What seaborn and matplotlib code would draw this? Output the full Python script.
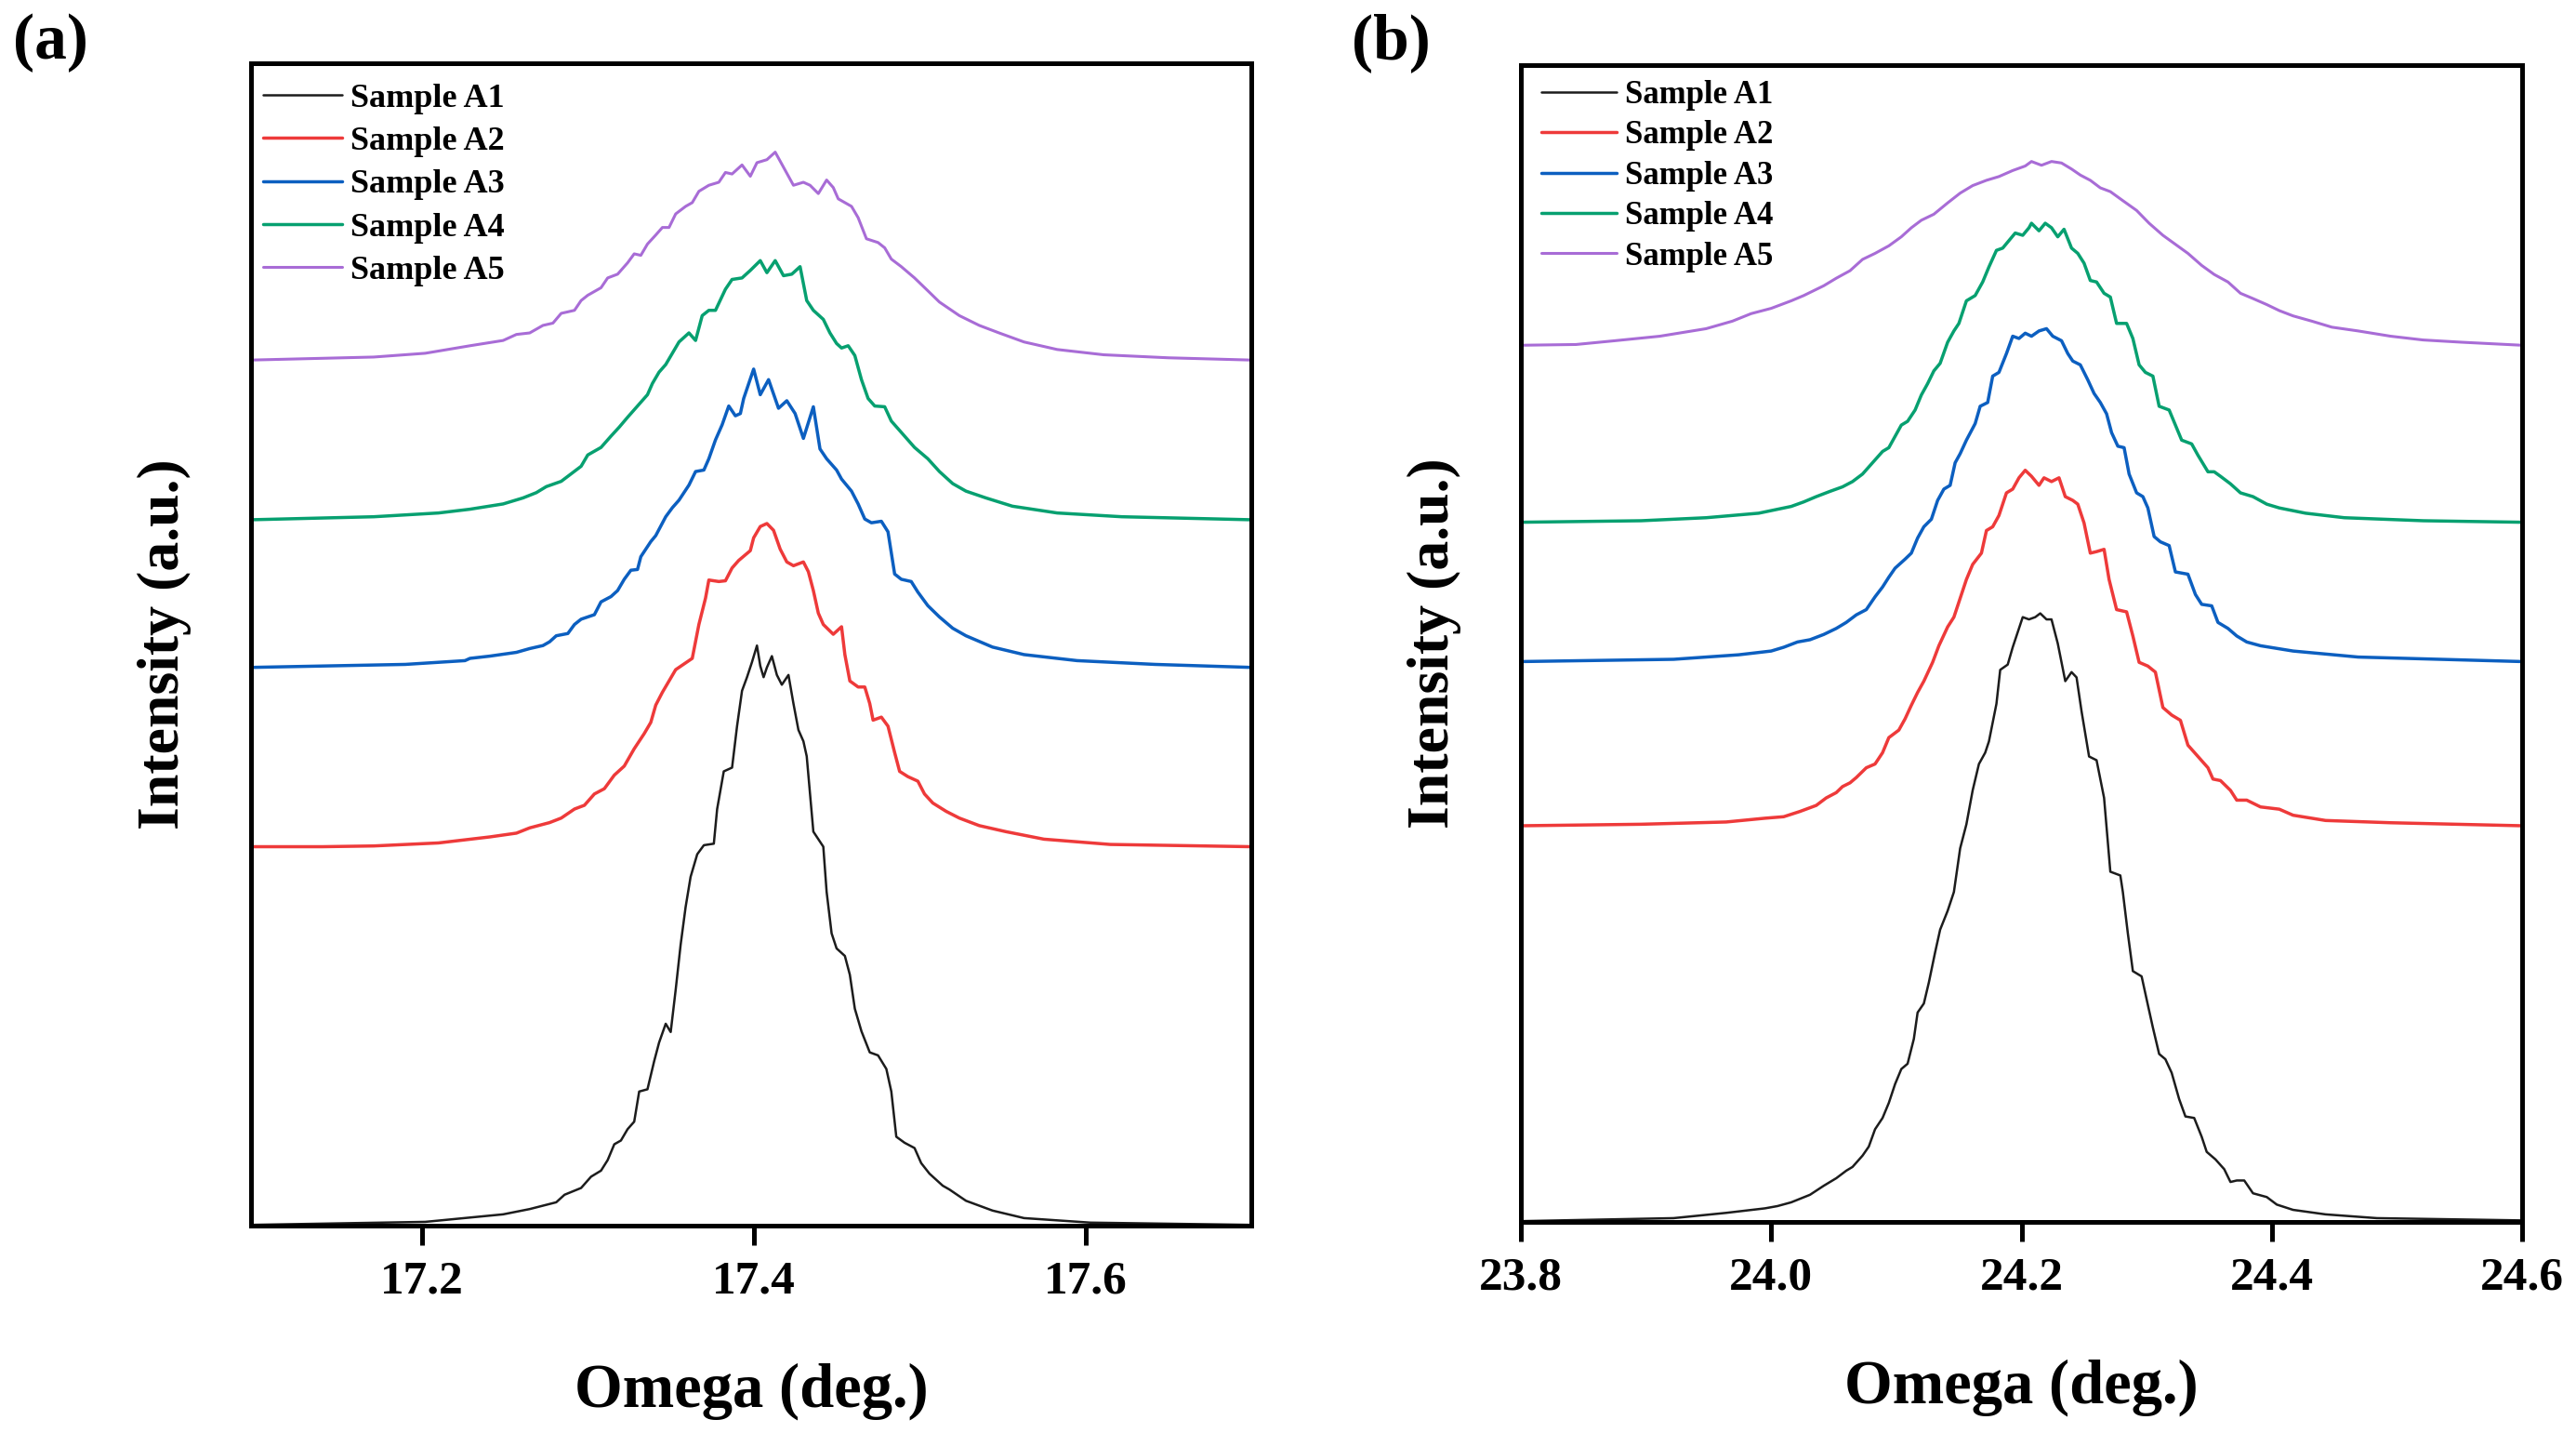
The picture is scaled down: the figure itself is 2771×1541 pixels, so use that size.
import numpy as np
import matplotlib
matplotlib.use("Agg")
import matplotlib.pyplot as plt
import seaborn as sns

# ---------------------------------------------
# Data (Omega in deg., intensity in a.u. above each baseline)
# ---------------------------------------------
labels = ["Sample A1", "Sample A2", "Sample A3", "Sample A4", "Sample A5"]
colors = ["#1c1c1c", "#ee3a3a", "#0c5fc0", "#07a070", "#a86cd6"]
widths = [1.8, 2.5, 2.5, 2.5, 2.2]

# panel (a): 17.1 - 17.7 deg
offsets_a = [1, 503, 741, 937, 1149]

a_s1 = [(17.097, 0), (17.202, 4), (17.249, 14), (17.265, 21), (17.281, 30), (17.286, 40),
        (17.296, 49), (17.302, 64), (17.308, 72), (17.312, 86), (17.316, 107), (17.320, 112),
        (17.324, 127), (17.328, 137), (17.331, 177), (17.336, 180), (17.340, 217), (17.343, 242),
        (17.347, 267), (17.350, 256), (17.353, 312), (17.356, 372), (17.359, 422), (17.362, 462),
        (17.366, 492), (17.370, 504), (17.376, 506), (17.378, 552), (17.382, 602), (17.387, 607),
        (17.390, 662), (17.393, 709), (17.396, 727), (17.399, 747), (17.402, 769), (17.404, 742),
        (17.406, 727), (17.408, 740), (17.411, 755), (17.414, 730), (17.417, 717), (17.421, 730),
        (17.424, 692), (17.427, 657), (17.430, 642), (17.432, 622), (17.434, 572), (17.436, 522),
        (17.442, 502), (17.444, 442), (17.447, 387), (17.450, 367), (17.455, 357), (17.458, 332),
        (17.461, 287), (17.465, 257), (17.470, 229), (17.475, 225), (17.480, 207), (17.483, 177),
        (17.486, 117), (17.491, 109), (17.497, 102), (17.501, 82), (17.506, 68), (17.514, 52),
        (17.518, 47), (17.528, 32), (17.544, 19), (17.563, 9), (17.603, 3), (17.700, 0)]

a_s2 = [(17.097, 0), (17.140, 0), (17.171, 1), (17.210, 5), (17.241, 13), (17.257, 18), (17.265, 25),
        (17.277, 32), (17.284, 38), (17.292, 50), (17.298, 55), (17.304, 70), (17.310, 77),
        (17.316, 95), (17.322, 107), (17.328, 130), (17.334, 150), (17.338, 165), (17.341, 188),
        (17.345, 205), (17.349, 220), (17.353, 235), (17.363, 250), (17.367, 295), (17.371, 330),
        (17.373, 354), (17.379, 352), (17.383, 353), (17.387, 370), (17.391, 380), (17.398, 393),
        (17.400, 410), (17.404, 425), (17.408, 429), (17.412, 420), (17.416, 395), (17.420, 378),
        (17.424, 373), (17.430, 378), (17.433, 365), (17.436, 340), (17.439, 310), (17.442, 295),
        (17.448, 282), (17.453, 292), (17.455, 255), (17.458, 220), (17.463, 212), (17.467, 212),
        (17.470, 190), (17.472, 168), (17.477, 172), (17.481, 160), (17.485, 125), (17.488, 100),
        (17.493, 93), (17.499, 87), (17.503, 70), (17.508, 58), (17.516, 47), (17.524, 38),
        (17.536, 28), (17.552, 20), (17.575, 10), (17.615, 3), (17.700, 0)]

a_s3 = [(17.097, 0), (17.190, 4), (17.226, 9), (17.229, 12), (17.241, 15), (17.257, 20),
        (17.265, 25), (17.273, 29), (17.277, 34), (17.281, 42), (17.288, 45), (17.292, 57),
        (17.296, 64), (17.304, 70), (17.308, 87), (17.314, 94), (17.318, 102), (17.322, 117),
        (17.326, 129), (17.330, 130), (17.332, 147), (17.338, 167), (17.341, 175), (17.347, 200),
        (17.351, 212), (17.355, 222), (17.361, 242), (17.365, 260), (17.370, 262), (17.373, 277),
        (17.377, 302), (17.381, 322), (17.385, 347), (17.389, 334), (17.392, 337), (17.394, 357),
        (17.400, 396), (17.404, 362), (17.409, 382), (17.415, 344), (17.420, 354), (17.425, 337),
        (17.430, 304), (17.436, 346), (17.440, 290), (17.444, 277), (17.450, 262), (17.453, 250),
        (17.459, 234), (17.463, 217), (17.467, 197), (17.471, 192), (17.477, 194), (17.481, 180),
        (17.485, 124), (17.489, 117), (17.495, 114), (17.499, 100), (17.505, 82), (17.512, 67),
        (17.520, 52), (17.528, 42), (17.544, 27), (17.563, 17), (17.595, 9), (17.642, 4),
        (17.700, 0)]

a_s4 = [(17.097, 0), (17.171, 4), (17.210, 9), (17.229, 14), (17.249, 21), (17.261, 29),
        (17.269, 36), (17.275, 44), (17.284, 51), (17.290, 61), (17.296, 71), (17.300, 86),
        (17.308, 96), (17.314, 111), (17.319, 123), (17.324, 136), (17.330, 151), (17.336, 166),
        (17.339, 181), (17.343, 196), (17.347, 206), (17.351, 221), (17.355, 236), (17.361, 248),
        (17.365, 238), (17.369, 271), (17.373, 278), (17.377, 278), (17.383, 306), (17.387, 319),
        (17.393, 321), (17.398, 331), (17.404, 344), (17.408, 328), (17.413, 344), (17.418, 324),
        (17.423, 326), (17.428, 336), (17.432, 291), (17.436, 278), (17.442, 266), (17.446, 248),
        (17.450, 234), (17.453, 228), (17.457, 231), (17.461, 218), (17.465, 186), (17.469, 161),
        (17.473, 151), (17.479, 150), (17.483, 131), (17.489, 116), (17.497, 96), (17.505, 81),
        (17.512, 64), (17.520, 48), (17.528, 38), (17.540, 29), (17.556, 18), (17.583, 9),
        (17.622, 4), (17.700, 0)]

a_s5 = [(17.097, 0), (17.171, 4), (17.202, 9), (17.229, 19), (17.249, 26), (17.257, 34),
        (17.265, 36), (17.273, 46), (17.279, 49), (17.284, 62), (17.292, 66), (17.296, 79),
        (17.300, 86), (17.308, 96), (17.312, 109), (17.318, 114), (17.324, 129), (17.328, 141),
        (17.332, 139), (17.336, 154), (17.341, 166), (17.345, 176), (17.349, 176), (17.353, 194),
        (17.359, 204), (17.363, 209), (17.367, 224), (17.373, 232), (17.379, 236), (17.383, 249),
        (17.387, 247), (17.393, 259), (17.398, 244), (17.402, 262), (17.408, 266), (17.413, 276),
        (17.418, 256), (17.424, 232), (17.430, 236), (17.434, 232), (17.439, 221), (17.444, 239),
        (17.448, 229), (17.451, 214), (17.459, 204), (17.463, 189), (17.468, 161), (17.475, 156),
        (17.479, 149), (17.483, 134), (17.489, 124), (17.497, 109), (17.505, 92), (17.512, 77),
        (17.524, 59), (17.536, 46), (17.548, 36), (17.563, 24), (17.583, 14), (17.611, 7),
        (17.650, 3), (17.700, 0)]

# panel (b): 23.8 - 24.6 deg
offsets_b = [1, 526, 744, 929, 1164]

b_s1 = [(23.800, 0), (23.922, 4), (23.964, 11), (23.995, 17), (24.005, 20), (24.016, 25),
        (24.031, 35), (24.042, 47), (24.052, 57), (24.060, 67), (24.065, 72), (24.073, 87),
        (24.078, 99), (24.083, 122), (24.089, 137), (24.094, 157), (24.099, 182), (24.104, 202),
        (24.109, 209), (24.114, 242), (24.117, 277), (24.122, 289), (24.126, 317), (24.131, 357),
        (24.135, 387), (24.141, 412), (24.146, 437), (24.151, 495), (24.156, 527), (24.161, 572),
        (24.166, 607), (24.171, 622), (24.174, 637), (24.180, 687), (24.183, 732), (24.189, 739),
        (24.193, 762), (24.198, 787), (24.201, 802), (24.206, 799), (24.211, 802), (24.215, 807),
        (24.220, 799), (24.224, 799), (24.229, 767), (24.235, 717), (24.240, 729), (24.244, 722),
        (24.248, 677), (24.254, 617), (24.260, 612), (24.266, 562), (24.271, 464), (24.279, 459),
        (24.281, 437), (24.285, 382), (24.289, 332), (24.296, 325), (24.301, 287), (24.305, 257),
        (24.310, 222), (24.315, 215), (24.320, 197), (24.326, 162), (24.331, 139), (24.338, 137),
        (24.344, 112), (24.348, 92), (24.355, 82), (24.362, 69), (24.367, 52), (24.372, 54),
        (24.378, 54), (24.385, 37), (24.396, 32), (24.404, 22), (24.417, 15), (24.443, 9),
        (24.484, 4), (24.600, 1)]

b_s2 = [(23.800, 0), (23.896, 2), (23.964, 5), (23.995, 10), (24.010, 12), (24.023, 19),
        (24.036, 27), (24.044, 37), (24.052, 44), (24.057, 52), (24.063, 57), (24.068, 64),
        (24.076, 77), (24.083, 82), (24.089, 97), (24.094, 117), (24.102, 127), (24.107, 142),
        (24.112, 160), (24.117, 177), (24.122, 192), (24.129, 217), (24.134, 239), (24.141, 264),
        (24.146, 277), (24.151, 302), (24.156, 327), (24.161, 347), (24.168, 362), (24.172, 392),
        (24.177, 397), (24.182, 412), (24.188, 442), (24.193, 447), (24.198, 462), (24.203, 472),
        (24.208, 464), (24.214, 452), (24.218, 462), (24.224, 457), (24.230, 462), (24.235, 437),
        (24.241, 432), (24.245, 427), (24.250, 402), (24.255, 362), (24.260, 364), (24.266, 367),
        (24.270, 327), (24.276, 287), (24.284, 284), (24.289, 252), (24.294, 217), (24.301, 212),
        (24.307, 204), (24.313, 157), (24.320, 147), (24.327, 140), (24.333, 107), (24.341, 92),
        (24.349, 77), (24.353, 62), (24.359, 60), (24.367, 47), (24.372, 34), (24.380, 34),
        (24.391, 25), (24.406, 22), (24.417, 14), (24.443, 7), (24.495, 4), (24.600, 0)]

b_s3 = [(23.800, 0), (23.922, 3), (23.974, 9), (24.000, 14), (24.010, 19), (24.021, 26),
        (24.031, 29), (24.042, 36), (24.052, 44), (24.060, 52), (24.068, 62), (24.076, 69),
        (24.083, 86), (24.089, 99), (24.094, 112), (24.099, 124), (24.107, 136), (24.112, 144),
        (24.117, 164), (24.122, 179), (24.128, 189), (24.133, 214), (24.138, 229), (24.143, 234),
        (24.147, 264), (24.151, 276), (24.156, 294), (24.163, 316), (24.167, 339), (24.173, 344),
        (24.177, 379), (24.182, 384), (24.188, 409), (24.193, 432), (24.198, 429), (24.203, 436),
        (24.208, 432), (24.214, 439), (24.220, 442), (24.225, 432), (24.232, 426), (24.237, 409),
        (24.241, 399), (24.247, 394), (24.253, 374), (24.258, 356), (24.263, 344), (24.268, 329),
        (24.272, 304), (24.277, 286), (24.282, 284), (24.286, 249), (24.292, 224), (24.297, 219),
        (24.301, 204), (24.306, 166), (24.311, 159), (24.318, 154), (24.323, 119), (24.333, 116),
        (24.339, 89), (24.344, 76), (24.352, 74), (24.357, 52), (24.365, 44), (24.372, 34),
        (24.380, 26), (24.391, 21), (24.417, 14), (24.469, 6), (24.600, 0)]

b_s4 = [(23.800, 0), (23.896, 2), (23.948, 6), (23.990, 12), (24.016, 21), (24.026, 27),
        (24.036, 34), (24.047, 41), (24.057, 47), (24.065, 54), (24.073, 64), (24.081, 79),
        (24.089, 94), (24.094, 99), (24.099, 114), (24.104, 129), (24.109, 134), (24.115, 149),
        (24.120, 169), (24.125, 184), (24.130, 201), (24.135, 211), (24.141, 239), (24.146, 254),
        (24.150, 264), (24.156, 294), (24.163, 301), (24.169, 319), (24.174, 339), (24.180, 361),
        (24.185, 364), (24.190, 374), (24.195, 384), (24.201, 381), (24.206, 391), (24.208, 397),
        (24.214, 387), (24.219, 397), (24.224, 391), (24.229, 379), (24.234, 389), (24.240, 364),
        (24.245, 357), (24.250, 344), (24.255, 321), (24.260, 319), (24.266, 304), (24.271, 299),
        (24.276, 264), (24.284, 264), (24.289, 244), (24.294, 209), (24.299, 199), (24.305, 194),
        (24.310, 154), (24.318, 149), (24.323, 129), (24.328, 109), (24.336, 104), (24.341, 89),
        (24.349, 67), (24.354, 67), (24.359, 61), (24.367, 51), (24.375, 39), (24.385, 34),
        (24.396, 24), (24.406, 19), (24.427, 12), (24.458, 6), (24.521, 2), (24.600, 0)]

b_s5 = [(23.800, 0), (23.844, 1), (23.875, 6), (23.911, 12), (23.948, 22), (23.969, 32),
        (23.984, 42), (24.000, 49), (24.016, 59), (24.026, 66), (24.042, 79), (24.052, 89),
        (24.063, 99), (24.073, 114), (24.083, 122), (24.094, 132), (24.104, 144), (24.112, 156),
        (24.120, 166), (24.130, 174), (24.141, 189), (24.151, 202), (24.161, 212), (24.172, 219),
        (24.182, 224), (24.193, 232), (24.203, 238), (24.208, 244), (24.216, 239), (24.224, 244),
        (24.232, 242), (24.240, 234), (24.247, 226), (24.255, 219), (24.263, 209), (24.271, 204),
        (24.281, 192), (24.292, 179), (24.302, 162), (24.313, 146), (24.323, 134), (24.333, 122),
        (24.344, 106), (24.354, 94), (24.365, 84), (24.375, 69), (24.385, 62), (24.396, 54),
        (24.406, 46), (24.417, 39), (24.432, 32), (24.448, 24), (24.469, 19), (24.495, 12),
        (24.521, 7), (24.552, 4), (24.600, 0)]

xticks_a = [17.2, 17.4, 17.6]
xticks_b = [23.8, 24.0, 24.2, 24.4, 24.6]

# ---------------------------------------------
# Style
# ---------------------------------------------
sns.set_theme(style="white")
plt.rcParams["font.family"] = ["Liberation Serif", "DejaVu Serif"]
plt.rcParams["font.weight"] = "bold"
plt.rcParams["axes.labelweight"] = "bold"
plt.rcParams["text.color"] = "black"
plt.rcParams["axes.labelcolor"] = "black"
plt.rcParams["xtick.color"] = "black"
plt.rcParams["ytick.color"] = "black"

fig = plt.figure(figsize=(27.71, 15.41), dpi=100)
ax_a = fig.add_axes([0.09744, 0.14471, 0.38831, 0.81116])
ax_b = fig.add_axes([0.59040, 0.14731, 0.38867, 0.80727])


def draw_panel(ax, series, offsets, xlim, ylim, xticks, legend_anchor, legend_size, spacing):
    for pts, off, lab, col, lw in zip(series, offsets, labels, colors, widths):
        arr = np.array(pts, dtype=float)
        sns.lineplot(x=arr[:, 0], y=arr[:, 1] + off, ax=ax, color=col,
                     linewidth=lw, label=lab)
    ax.set_xlim(*xlim)
    ax.set_ylim(*ylim)
    ax.set_xticks(xticks)
    ax.set_xticklabels([f"{t:.1f}" for t in xticks])
    ax.set_yticks([])
    ax.tick_params(axis="x", bottom=True, direction="out", length=15, width=3.6, pad=12,
                   labelsize=37, colors="black")
    for sp in ax.spines.values():
        sp.set_visible(True)
        sp.set_color("black")
        sp.set_linewidth(3.6)
    ax.set_xlabel("Omega (deg.)", fontsize=48, fontweight="bold", labelpad=46)
    ax.set_ylabel("Intensity (a.u.)", fontsize=46, fontweight="bold", labelpad=46)
    ax.legend(loc="upper left", bbox_to_anchor=legend_anchor, frameon=False,
              prop={"family": "Liberation Serif", "weight": "bold", "size": legend_size},
              handlelength=2.35, handletextpad=0.25, labelspacing=spacing,
              borderpad=0.35, borderaxespad=0)


draw_panel(ax_a, [a_s1, a_s2, a_s3, a_s4, a_s5], offsets_a, (17.097, 17.700),
           (0, 1543), xticks_a, (0.0, 0.993), 26, 0.36)
draw_panel(ax_b, [b_s1, b_s2, b_s3, b_s4, b_s5], offsets_b, (23.8, 24.6),
           (0, 1536), xticks_b, (0.009, 0.997), 25, 0.30)

fig.text(14 / 2771, 1 - 46 / 1541, "(a)", fontsize=50, fontweight="bold",
         ha="left", va="center")
fig.text(1454 / 2771, 1 - 46 / 1541, "(b)", fontsize=50, fontweight="bold",
         ha="left", va="center")

fig.savefig("out.png", dpi=100)
